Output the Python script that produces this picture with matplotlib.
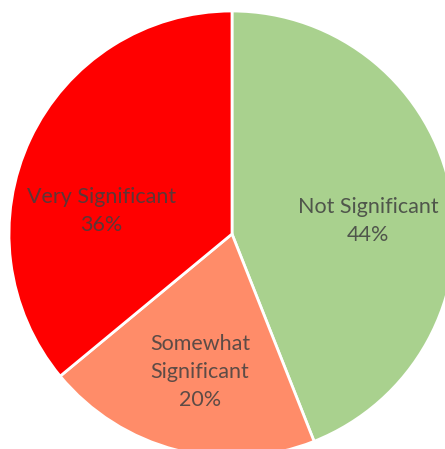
import matplotlib
matplotlib.use("Agg")
from matplotlib import pyplot as plt

labels = ["Not Significant", "Somewhat\nSignificant", "Very Significant"]
values = [44, 20, 36]
colors = ["#A9D18E", "#FF8C69", "#FF0000"]

# label offsets from the centre, as fractions of the radius
label_pos = [(0.61, 0.06), (-0.143, -0.62), (-0.585, 0.105)]

W, H = 445, 449
fig = plt.figure(figsize=(W / 100, H / 100), dpi=100)
ax = fig.add_axes([0, 0, 1, 1])

cx, cy, r = 232, H - 234, 223

wedges, texts = ax.pie(values, colors=colors, startangle=90, counterclock=False,
                       center=(cx, cy), radius=r,
                       wedgeprops=dict(edgecolor="white", linewidth=2))

for lab, v, (dx, dy) in zip(labels, values, label_pos):
    ax.text(cx + dx * r, cy + dy * r, "%s\n%d%%" % (lab, v), ha="center", va="center",
            fontsize=15.5, family=["Lato", "DejaVu Sans"], color="#404040",
            alpha=0.85, linespacing=1.5)

ax.set_xlim(0, W)
ax.set_ylim(0, H)
ax.set_aspect("equal")
ax.axis("off")

fig.savefig("out.png", dpi=100)
